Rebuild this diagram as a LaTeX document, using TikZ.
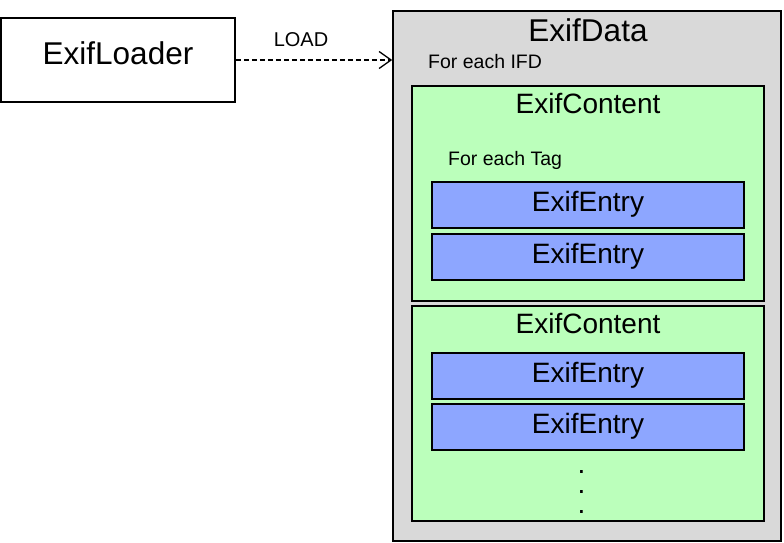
\documentclass[tikz,border=0pt]{standalone}
\usepackage{fontspec}
\setmainfont{Liberation Sans}
\usetikzlibrary{arrows.meta}
\definecolor{datagray}{RGB}{217,217,217}
\definecolor{contentgreen}{RGB}{187,255,187}
\definecolor{entryblue}{RGB}{141,166,255}
\begin{document}
\begin{tikzpicture}[x=1pt,y=-1pt]
\tikzstyle{loaderbox} = [draw,fill=white,line width=1.6,minimum width=234,minimum height=84,inner sep=0];
\tikzstyle{databox} = [draw,fill=datagray,line width=1.6,minimum width=388,minimum height=530,inner sep=0];
\tikzstyle{contentbox} = [draw,fill=contentgreen,line width=1.6,minimum width=352,minimum height=215,inner sep=0];
\tikzstyle{entrybox} = [draw,fill=entryblue,line width=1.6,minimum width=312,minimum height=46,inner sep=0];
\tikzstyle{bigtext} = [font=\fontsize{31.5}{36}\selectfont,anchor=base,inner sep=0];
\tikzstyle{boxtext} = [font=\fontsize{28}{34}\selectfont,anchor=base,inner sep=0];
\tikzstyle{notetext} = [font=\fontsize{19.5}{24}\selectfont,anchor=base west,inner sep=0];
\tikzstyle{arr} = [line width=1.3,dash pattern=on 5pt off 3pt,-{Straight Barb[length=12pt,width=17pt,line width=1.3pt]}];
\useasboundingbox (0,0) rectangle (784,543);
\node [loaderbox] (loader) at (118,60) {};
\node [bigtext] (tloader) at (118,65) {ExifLoader};
\node [databox] (data) at (587,276) {};
\node [bigtext] (tdata) at (588,42) {ExifData};
\node [notetext] (ifd) at (428,68) {For each IFD};
\node [contentbox] (c1) at (588,193.5) {};
\node [boxtext] (tc1) at (588,113) {ExifContent};
\node [notetext] (tag) at (448,165) {For each Tag};
\node [entrybox] (e1) at (588,205) {};
\node [boxtext] (te1) at (588,211) {ExifEntry};
\node [entrybox] (e2) at (588,257) {};
\node [boxtext] (te2) at (588,263) {ExifEntry};
\node [contentbox] (c2) at (588,413.5) {};
\node [boxtext] (tc2) at (588,333) {ExifContent};
\node [entrybox] (e3) at (588,376) {};
\node [boxtext] (te3) at (588,382) {ExifEntry};
\node [entrybox] (e4) at (588,427) {};
\node [boxtext] (te4) at (588,433) {ExifEntry};
\node [font=\fontsize{28}{20}\selectfont,align=center,anchor=south,inner sep=0] (dots) at (581.5,514) {.\\.\\.};
\node [font=\fontsize{20}{24}\selectfont,anchor=base,inner sep=0] (load) at (301,46.5) {LOAD};
\draw [arr] (loader.east) -- (loader.east -| data.west);
\end{tikzpicture}
\end{document}
